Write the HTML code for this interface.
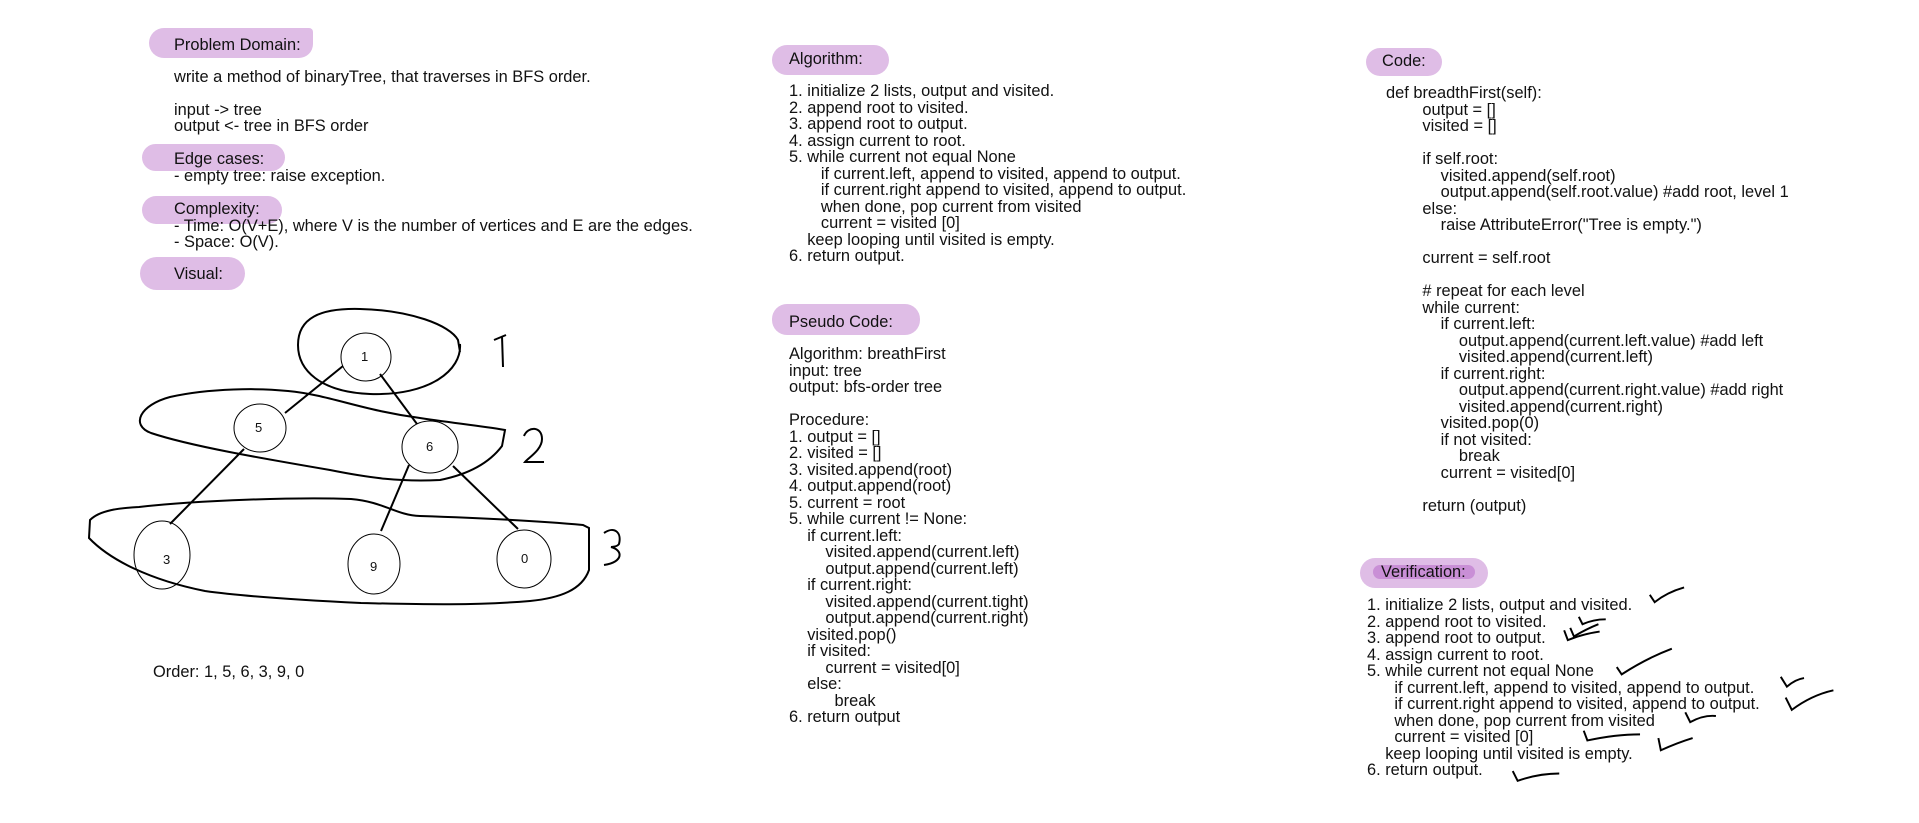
<!DOCTYPE html>
<html><head><meta charset="utf-8"><style>
body{margin:0;width:1919px;height:823px;background:#fff;position:relative;overflow:hidden;font-family:"Liberation Sans",Arial,sans-serif;color:#111}
.t{position:absolute;font-size:16.4px;line-height:16.5px;white-space:pre;}
.p{position:absolute;background:#dfbde6;border-radius:15px;}
svg{position:absolute;left:0;top:0}
</style></head><body>
<div class="p" style="left:149px;top:28px;width:164px;height:30px;border-radius:15px 4px 14px 15px"></div>
<div class="p" style="left:142px;top:144px;width:143px;height:27px"></div>
<div class="p" style="left:142px;top:196px;width:140px;height:28px"></div>
<div class="p" style="left:140px;top:257px;width:105px;height:33px;border-radius:18px"></div>
<div class="p" style="left:772px;top:45px;width:117px;height:30px"></div>
<div class="p" style="left:772px;top:304px;width:148px;height:31px"></div>
<div class="p" style="left:1366px;top:48px;width:76px;height:28px"></div>
<div class="p" style="left:1360px;top:558px;width:128px;height:30px"></div>
<div style="position:absolute;left:1373px;top:565px;width:102px;height:14px;background:#c98fd6;border-radius:7px"></div>

<div class="t" style="left:174px;top:37px">Problem Domain:</div>
<div class="t" style="left:174px;top:69px">write a method of binaryTree, that traverses in BFS order.</div>
<div class="t" style="left:174px;top:102px;line-height:16px">input -&gt; tree
output &lt;- tree in BFS order</div>
<div class="t" style="left:174px;top:151px;line-height:16.5px">Edge cases:
- empty tree: raise exception.</div>
<div class="t" style="left:174px;top:201px;line-height:16.5px">Complexity:
- Time: O(V+E), where V is the number of vertices and E are the edges.
- Space: O(V).</div>
<div class="t" style="left:174px;top:266px">Visual:</div>
<div class="t" style="left:153px;top:664px">Order: 1, 5, 6, 3, 9, 0</div>

<div class="t" style="left:789px;top:51px">Algorithm:</div>
<div class="t" style="left:789px;top:83px">1. initialize 2 lists, output and visited.
2. append root to visited.
3. append root to output.
4. assign current to root.
5. while current not equal None
       if current.left, append to visited, append to output.
       if current.right append to visited, append to output.
       when done, pop current from visited
       current = visited [0]
    keep looping until visited is empty.
6. return output.</div>
<div class="t" style="left:789px;top:314px">Pseudo Code:</div>
<div class="t" style="left:789px;top:346px">Algorithm: breathFirst
input: tree
output: bfs-order tree

Procedure:
1. output = []
2. visited = []
3. visited.append(root)
4. output.append(root)
5. current = root
5. while current != None:
    if current.left:
        visited.append(current.left)
        output.append(current.left)
    if current.right:
        visited.append(current.tight)
        output.append(current.right)
    visited.pop()
    if visited:
        current = visited[0]
    else:
          break
6. return output</div>

<div class="t" style="left:1382px;top:53px">Code:</div>
<div class="t" style="left:1386px;top:85px">def breadthFirst(self):
        output = []
        visited = []

        if self.root:
            visited.append(self.root)
            output.append(self.root.value) #add root, level 1
        else:
            raise AttributeError("Tree is empty.")

        current = self.root

        # repeat for each level
        while current:
            if current.left:
                output.append(current.left.value) #add left
                visited.append(current.left)
            if current.right:
                output.append(current.right.value) #add right
                visited.append(current.right)
            visited.pop(0)
            if not visited:
                break
            current = visited[0]

        return (output)</div>
<div class="t" style="left:1381px;top:564px">Verification:</div>
<div class="t" style="left:1367px;top:597px">1. initialize 2 lists, output and visited.
2. append root to visited.
3. append root to output.
4. assign current to root.
5. while current not equal None
      if current.left, append to visited, append to output.
      if current.right append to visited, append to output.
      when done, pop current from visited
      current = visited [0]
    keep looping until visited is empty.
6. return output.</div>

<svg width="1919" height="823" viewBox="0 0 1919 823" fill="none" stroke="#000">
<g stroke-width="1">
<ellipse cx="366" cy="357" rx="25" ry="24" fill="#fff"/>
<ellipse cx="260" cy="428" rx="26" ry="24" fill="#fff"/>
<ellipse cx="430" cy="447" rx="28" ry="26" fill="#fff"/>
<ellipse cx="162" cy="555" rx="28" ry="34" fill="#fff"/>
<ellipse cx="374" cy="564" rx="26" ry="30" fill="#fff"/>
<ellipse cx="524" cy="559" rx="27" ry="29" fill="#fff"/>
</g>
<g stroke-width="2">
<line x1="343" y1="366" x2="285" y2="413"/>
<line x1="380" y1="374" x2="417" y2="424"/>
<line x1="244" y1="449" x2="170" y2="524"/>
<line x1="409" y1="465" x2="381" y2="531"/>
<line x1="453" y1="466" x2="518" y2="529"/>
<path d="M460,344 C462,370 430,396 370,394 C320,392 298,370 298,345 C298,318 320,308 360,309 C410,310 450,325 458,340 L460,352"/>
<path d="M494,340 L506,335 M502,336 L503,367"/>
<path d="M151,433 C130,425 140,405 170,397 C210,388 260,388 288,391 C330,395 360,410 420,418 C460,424 490,427 505,430 L502,446 C490,462 470,474 440,480 C400,482 370,478 330,470 C260,458 190,446 151,433 Z"/>
<path d="M524,436 C528,426 542,426 542,439 C542,450 528,458 525,462 L544,462"/>
<path d="M139,507 C200,500 300,497 351,499 C385,502 395,515 420,516 C480,518 540,521 583,525 L589,528 L589,570 C582,590 560,598 530,601 C470,606 410,604 361,603 C300,600 240,596 205,591 C150,580 110,560 89,538 L90,520 C100,510 120,508 139,507 Z"/>
<path d="M604,533 C614,526 622,532 619,544 C617,547 611,547 611,547 C623,550 624,562 604,565"/>
</g>
<g stroke-width="1.6" transform="scale(1.2239)">
<path d="M1348,486 L1352,492 Q1362,484 1376,480"/>
<path d="M1290,504 L1293,510 Q1302,506 1312,506"/>
<path d="M1283,513 L1286,520 Q1296,514 1306,510"/>
<path d="M1278,515 L1281,523 Q1293,518 1307,516"/>
<path d="M1321,545 L1325,551 Q1345,538 1366,530"/>
<path d="M1455,553 L1460,561 Q1467,555 1474,554"/>
<path d="M1459,570 L1464,580 Q1480,568 1498,564"/>
<path d="M1377,582 L1381,590 Q1392,584 1402,585"/>
<path d="M1294,597 L1297,605 Q1320,600 1340,600"/>
<path d="M1355,603 L1357,613 Q1370,607 1383,603"/>
<path d="M1236,630 L1240,638 Q1257,632 1274,632"/>
</g>
</svg>
<div class="t" style="left:361px;top:349px;font-size:13px">1</div>
<div class="t" style="left:255px;top:420px;font-size:13px">5</div>
<div class="t" style="left:426px;top:439px;font-size:13px">6</div>
<div class="t" style="left:163px;top:552px;font-size:13px">3</div>
<div class="t" style="left:370px;top:559px;font-size:13px">9</div>
<div class="t" style="left:521px;top:551px;font-size:13px">0</div>
</body></html>
